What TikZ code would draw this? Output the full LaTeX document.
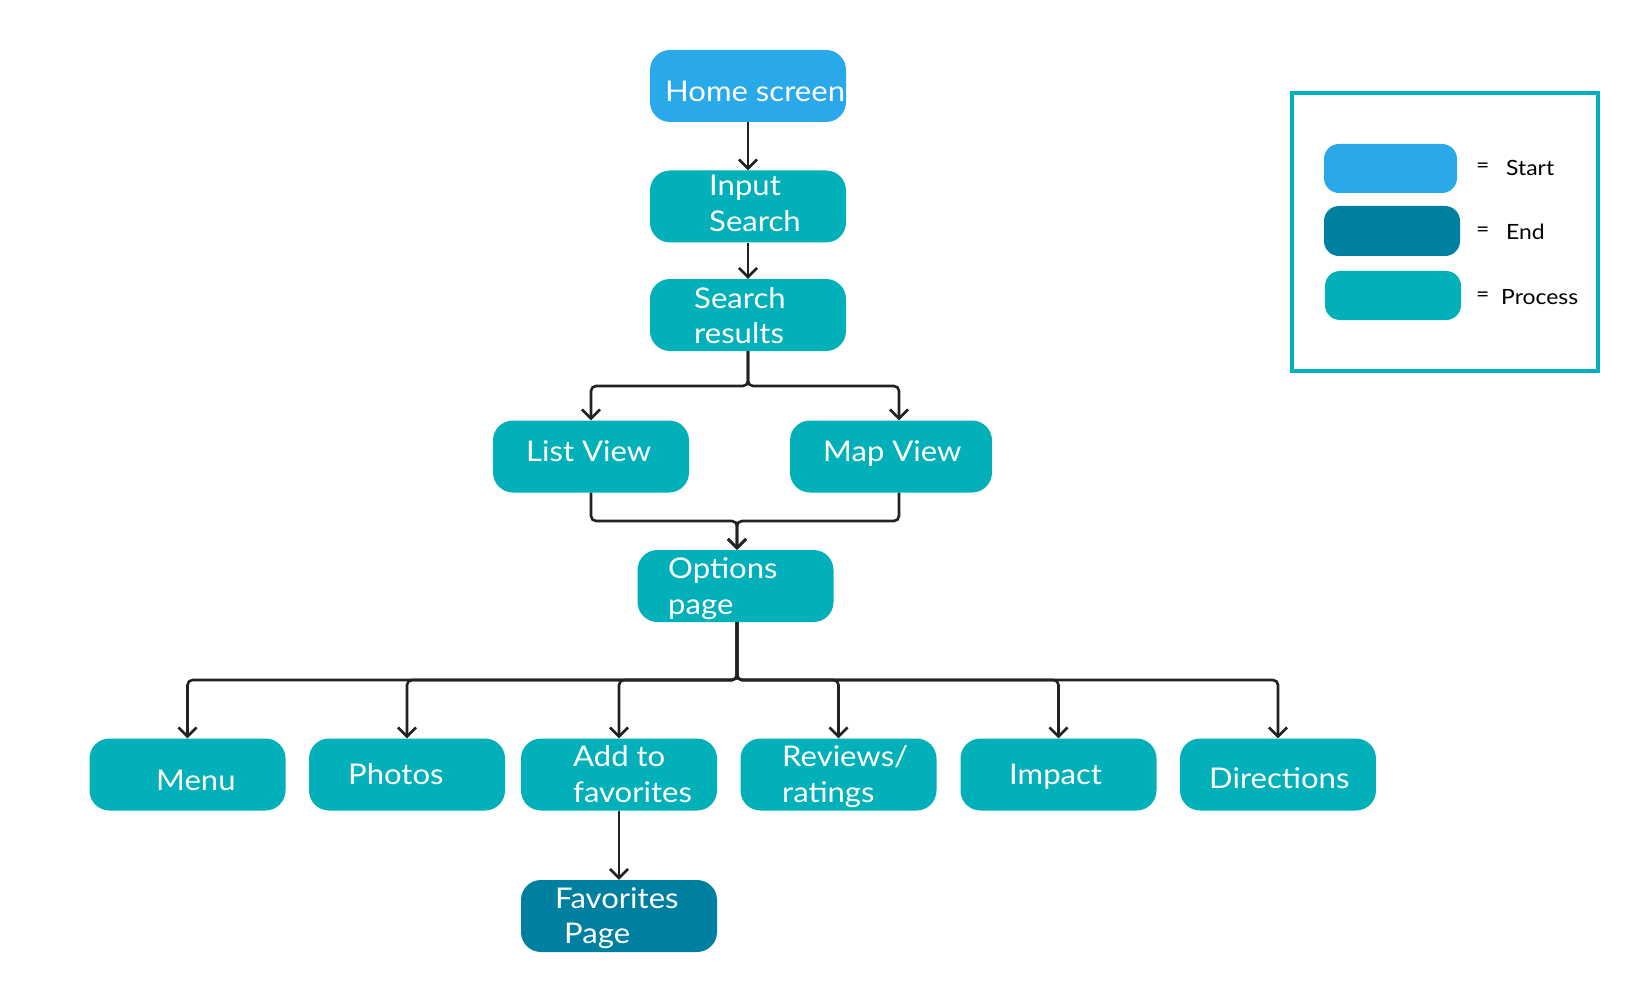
\documentclass[tikz,border=0pt]{standalone}
\usepackage{fontspec}
\setmainfont{Lato}[FakeStretch=1.09]
\usetikzlibrary{arrows.meta}
\definecolor{startc}{RGB}{41,168,234}
\definecolor{procc}{RGB}{2,176,185}
\definecolor{endc}{RGB}{0,128,161}
\definecolor{linec}{RGB}{34,34,34}
\begin{document}
\begin{tikzpicture}[x=1pt,y=-1pt,
  box/.style={rounded corners=20pt, minimum width=196pt, minimum height=72pt, inner sep=0pt},
  procbox/.style={box, fill=procc},
  startbox/.style={box, fill=startc},
  endbox/.style={box, fill=endc},
  lbl/.style={text=white, font=\fontsize{28.5}{34}\selectfont, anchor=base west, inner sep=0pt},
  swatch/.style={rounded corners=15pt, minimum height=49pt, inner sep=0pt},
  legtxt/.style={font=\fontsize{21}{25}\selectfont, anchor=west, inner sep=0pt},
  conn/.style={draw=linec, line width=2.6pt, rounded corners=5pt, -{Straight Barb[length=9pt,width=18pt,line width=2.6pt]}}
]
\useasboundingbox (0,0) rectangle (1640,992);
% boxes
\node[startbox] (home) at (748,86) {};
\node[procbox] (input) at (748,206.5) {};
\node[procbox] (results) at (748,315) {};
\node[procbox] (list) at (591,456.5) {};
\node[procbox, minimum width=202pt] (map) at (891,456.5) {};
\node[procbox] (options) at (735.5,586) {};
\node[procbox] (menu) at (187.5,774.5) {};
\node[procbox] (photos) at (407,774.5) {};
\node[procbox] (addfav) at (619,774.5) {};
\node[procbox] (reviews) at (838.5,774.5) {};
\node[procbox] (impact) at (1058.5,774.5) {};
\node[procbox] (directions) at (1278,774.5) {};
\node[endbox] (favpage) at (619,916) {};
% labels
\node[lbl] (thome) at (665,102) {Home screen};
\node[lbl] (tinput1) at (709,196) {Input};
\node[lbl] (tinput2) at (709,232) {Search};
\node[lbl] (tres1) at (694,308) {Search};
\node[lbl] (tres2) at (694,343) {results};
\node[lbl] (tlist) at (526,461) {List View};
\node[lbl] (tmap) at (823,461) {Map View};
\node[lbl] (topt1) at (668,578) {Options};
\node[lbl] (topt2) at (668,614) {page};
\node[lbl] (tmenu) at (156,790) {Menu};
\node[lbl] (tphotos) at (348,784) {Photos};
\node[lbl] (tadd1) at (573,766) {Add to};
\node[lbl] (tadd2) at (573,802) {favorites};
\node[lbl] (trev1) at (782,766) {Reviews/};
\node[lbl] (trev2) at (782,802) {ratings};
\node[lbl] (timpact) at (1009,784) {Impact};
\node[lbl] (tdir) at (1209,788) {Directions};
\node[lbl] (tfav1) at (555,908) {Favorites};
\node[lbl] (tfav2) at (564,943) {Page};
% connectors
\coordinate (s1) at (748,386);
\coordinate (m1) at (737,521);
\coordinate (s2) at (737,680);
\draw[conn] (home.south) -- (input.north);
\draw[conn] (input.south) -- (results.north);
\draw[conn] (results.south) -- (s1) -| (list.north);
\draw[conn] (results.south) -- (s1) -| ([xshift=8pt]map.north);
\draw[conn] (list.south) |- (m1) -- ([xshift=1.5pt]options.north);
\draw[conn] ([xshift=8pt]map.south) |- (m1) -- ([xshift=1.5pt]options.north);
\foreach \t in {menu,photos,addfav,reviews,impact,directions}{
  \draw[conn] ([xshift=1.5pt]options.south) -- (s2) -| (\t.north);
}
\draw[conn] (addfav.south) -- (favpage.north);
% legend
\node[draw=procc, line width=4pt, minimum width=306pt, minimum height=278pt, inner sep=0pt] (legend) at (1445,232) {};
\node[swatch, fill=startc, minimum width=133pt] (sw1) at (1390.5,168.5) {};
\node[swatch, fill=endc, minimum width=136pt, minimum height=50pt] (sw2) at (1392,231) {};
\node[swatch, fill=procc, minimum width=136pt] (sw3) at (1393,295.5) {};
\node[legtxt] (e1) at (1476,168) {=};
\node[legtxt] (e2) at (1476,232) {=};
\node[legtxt] (e3) at (1476,297) {=};
\node[legtxt] (l1) at (1506,168) {Start};
\node[legtxt] (l2) at (1506,232) {End};
\node[legtxt] (l3) at (1501,297) {Process};
\end{tikzpicture}
\end{document}
